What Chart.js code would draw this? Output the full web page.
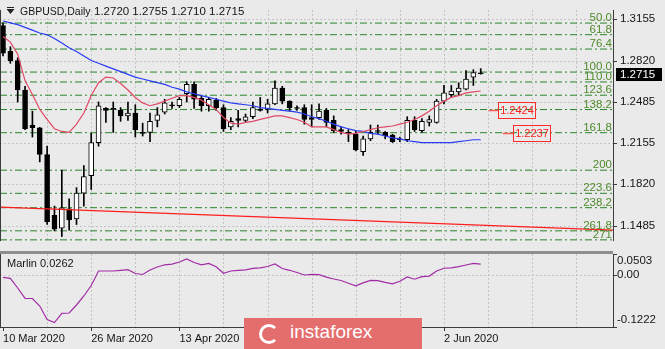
<!DOCTYPE html>
<html>
<head>
<meta charset="utf-8">
<script src="https://cdn.jsdelivr.net/npm/chart.js@4.4.0/dist/chart.umd.min.js"></script>
<style>
  html, body { margin: 0; padding: 0; background: #eaeaea; }
  body { width: 665px; height: 349px; position: relative; overflow: hidden; }
  #main { position: absolute; left: 0; top: 0; }
  #sub { position: absolute; left: 0; top: 254px; }
  #sep { position: absolute; left: 0; top: 251px; width: 613px; height: 3px; background: #8e8e8e; }
  #brand { position: absolute; left: 244px; top: 318px; width: 178px; height: 31px; background: #e46d6d; }
  #brand .logo { position: absolute; left: 15px; top: 6px; width: 14px; height: 14px; border: 3px solid #fff; border-radius: 50%; border-right-color: transparent; }
  #brand .name { position: absolute; left: 46px; top: 3px; color: #fff; font: 19px 'Liberation Sans', Arial, sans-serif; }
</style>
</head>
<body>
<canvas id="main" width="665" height="251"></canvas>
<div id="sep"></div>
<canvas id="sub" width="665" height="95"></canvas>
<div id="brand"><div class="logo"></div><div class="name">instaforex</div></div>
<script>
//// chart data

let dates = [
    '10 Mar 2020', '11 Mar 2020', '12 Mar 2020', '13 Mar 2020', '16 Mar 2020', '17 Mar 2020',
    '18 Mar 2020', '19 Mar 2020', '20 Mar 2020', '23 Mar 2020', '24 Mar 2020', '25 Mar 2020',
    '26 Mar 2020', '27 Mar 2020', '30 Mar 2020', '31 Mar 2020', '1 Apr 2020', '2 Apr 2020',
    '3 Apr 2020', '6 Apr 2020', '7 Apr 2020', '8 Apr 2020', '9 Apr 2020', '10 Apr 2020',
    '13 Apr 2020', '14 Apr 2020', '15 Apr 2020', '16 Apr 2020', '17 Apr 2020', '20 Apr 2020',
    '21 Apr 2020', '22 Apr 2020', '23 Apr 2020', '24 Apr 2020', '27 Apr 2020', '28 Apr 2020',
    '29 Apr 2020', '30 Apr 2020', '1 May 2020', '4 May 2020', '5 May 2020', '6 May 2020',
    '7 May 2020', '8 May 2020', '11 May 2020', '12 May 2020', '13 May 2020', '14 May 2020',
    '15 May 2020', '18 May 2020', '19 May 2020', '20 May 2020', '21 May 2020', '22 May 2020',
    '25 May 2020', '26 May 2020', '27 May 2020', '28 May 2020', '29 May 2020', '1 Jun 2020',
    '2 Jun 2020', '3 Jun 2020', '4 Jun 2020', '5 Jun 2020', '8 Jun 2020', '9 Jun 2020'
];

let opens = [
    1.3103, 1.2894, 1.2820, 1.2582, 1.2299, 1.2277, 1.2061, 1.1569, 1.1465, 1.1622, 1.1540,
    1.1748, 1.1890, 1.2157, 1.2433, 1.2433, 1.2418, 1.2373, 1.2396, 1.2239, 1.2239, 1.2336,
    1.2403, 1.2463, 1.2455, 1.2552, 1.2627, 1.2515, 1.2455, 1.2500, 1.2440, 1.2284, 1.2351,
    1.2336, 1.2366, 1.2425, 1.2425, 1.2470, 1.2597, 1.2492, 1.2440, 1.2440, 1.2359, 1.2359,
    1.2418, 1.2336, 1.2262, 1.2239, 1.2225, 1.2083, 1.2187, 1.2254, 1.2239, 1.2217, 1.2187,
    1.2180, 1.2336, 1.2254, 1.2321, 1.2321, 1.2492, 1.2545, 1.2567, 1.2589, 1.2686, 1.2720
];
let highs = [
    1.3125, 1.2932, 1.2842, 1.2612, 1.2411, 1.2280, 1.2128, 1.1644, 1.1934, 1.1703, 1.1793,
    1.1971, 1.2232, 1.2485, 1.2440, 1.2485, 1.2440, 1.2485, 1.2463, 1.2314, 1.2396, 1.2440,
    1.2507, 1.2485, 1.2522, 1.2649, 1.2649, 1.2537, 1.2522, 1.2515, 1.2463, 1.2359, 1.2418,
    1.2388, 1.2485, 1.2522, 1.2507, 1.2656, 1.2612, 1.2495, 1.2455, 1.2463, 1.2463, 1.2470,
    1.2433, 1.2373, 1.2284, 1.2262, 1.2247, 1.2210, 1.2299, 1.2299, 1.2247, 1.2225, 1.2202,
    1.2366, 1.2366, 1.2351, 1.2373, 1.2507, 1.2619, 1.2619, 1.2641, 1.2738, 1.2746, 1.2755
];
let lows = [
    1.2857, 1.2798, 1.2485, 1.2262, 1.2202, 1.2001, 1.1495, 1.1443, 1.1398, 1.1450, 1.1495,
    1.1644, 1.1778, 1.2128, 1.2321, 1.2239, 1.2329, 1.2336, 1.2202, 1.2210, 1.2165, 1.2284,
    1.2388, 1.2433, 1.2440, 1.2485, 1.2433, 1.2411, 1.2411, 1.2418, 1.2247, 1.2262, 1.2284,
    1.2321, 1.2351, 1.2411, 1.2396, 1.2463, 1.2470, 1.2411, 1.2418, 1.2306, 1.2284, 1.2344,
    1.2284, 1.2239, 1.2225, 1.2165, 1.2090, 1.2053, 1.2172, 1.2225, 1.2187, 1.2157, 1.2165,
    1.2165, 1.2247, 1.2239, 1.2291, 1.2314, 1.2470, 1.2522, 1.2537, 1.2582, 1.2619, 1.2710
];
let closes = [
    1.2880, 1.2820, 1.2582, 1.2269, 1.2277, 1.2061, 1.1517, 1.1458, 1.1629, 1.1532, 1.1748,
    1.1882, 1.2157, 1.2455, 1.2418, 1.2425, 1.2373, 1.2396, 1.2262, 1.2232, 1.2329, 1.2381,
    1.2478, 1.2455, 1.2507, 1.2627, 1.2507, 1.2455, 1.2507, 1.2440, 1.2269, 1.2329, 1.2336,
    1.2366, 1.2440, 1.2418, 1.2470, 1.2597, 1.2492, 1.2440, 1.2433, 1.2344, 1.2344, 1.2411,
    1.2321, 1.2254, 1.2247, 1.2232, 1.2098, 1.2187, 1.2239, 1.2247, 1.2210, 1.2165, 1.2180,
    1.2336, 1.2262, 1.2329, 1.2344, 1.2492, 1.2559, 1.2574, 1.2597, 1.2671, 1.2723, 1.2715
];

// red (fast) and blue (slow) moving averages
let fastMa = [
    1.3014, 1.2969, 1.2872, 1.2656, 1.2545, 1.2425, 1.2344, 1.2269, 1.2247, 1.2239, 1.2306,
    1.2396, 1.2537, 1.2641, 1.2686, 1.2679, 1.2634, 1.2582, 1.2522, 1.2478, 1.2455, 1.2470,
    1.2492, 1.2515, 1.2537, 1.2537, 1.2522, 1.2500, 1.2463, 1.2425, 1.2359, 1.2314, 1.2306,
    1.2321, 1.2329, 1.2344, 1.2359, 1.2373, 1.2373, 1.2359, 1.2344, 1.2321, 1.2284, 1.2284,
    1.2284, 1.2262, 1.2239, 1.2225, 1.2232, 1.2247, 1.2262, 1.2277, 1.2284, 1.2291, 1.2306,
    1.2321, 1.2344, 1.2373, 1.2411, 1.2455, 1.2492, 1.2522, 1.2537, 1.2559, 1.2567, 1.2574
];
let slowMa = [
    1.3140, 1.3125, 1.3110, 1.3088, 1.3066, 1.3043, 1.3028, 1.2999, 1.2961, 1.2924, 1.2894,
    1.2857, 1.2820, 1.2798, 1.2775, 1.2753, 1.2731, 1.2708, 1.2686, 1.2671, 1.2656, 1.2641,
    1.2627, 1.2604, 1.2589, 1.2567, 1.2552, 1.2537, 1.2522, 1.2507, 1.2492, 1.2478, 1.2470,
    1.2463, 1.2455, 1.2440, 1.2433, 1.2425, 1.2418, 1.2411, 1.2403, 1.2388, 1.2366, 1.2351,
    1.2329, 1.2306, 1.2284, 1.2269, 1.2254, 1.2247, 1.2232, 1.2225, 1.2210, 1.2195, 1.2187,
    1.2172, 1.2165, 1.2157, 1.2157, 1.2157, 1.2157, 1.2157, 1.2165, 1.2172, 1.2180, 1.2180
];

// long red trend line: price at the left and at the right edge
let trendStart = 1.1636;
let trendEnd = 1.1450;

let fibNames = ['50.0', '61.8', '76.4', '100.0', '110.0', '123.6', '138.2', '161.8', '200', '223.6', '238.2', '261.8', '271'];
let fibPrices = [1.3123, 1.3029, 1.2913, 1.2727, 1.2647, 1.2540, 1.2424, 1.2237, 1.1934, 1.1747, 1.1631, 1.1444, 1.1371];

let priceTicks = [1.3155, 1.2820, 1.2485, 1.2155, 1.1820, 1.1485];

let marlin = [
    -0.0048, -0.0074, -0.0300, -0.0544, -0.0549, -0.0726, -0.1045, -0.1116, -0.0898, -0.0891, -0.0702,
    -0.0489, -0.0241, 0.0101, 0.0101, 0.0101, 0.0118, 0.0132, 0.0042, 0.0019, 0.0125, 0.0196,
    0.0248, 0.0264, 0.0314, 0.0385, 0.0302, 0.0248, 0.0279, 0.0201, 0.0049, 0.0101, 0.0116,
    0.0130, 0.0163, 0.0175, 0.0208, 0.0267, 0.0160, 0.0118, 0.0066, 0.0007, 0.0021, 0.0014,
    -0.0045, -0.0088, -0.0123, -0.0187, -0.0248, -0.0180, -0.0121, -0.0128, -0.0168, -0.0201, -0.0142,
    -0.0038, -0.0093, -0.0033, -0.0019, 0.0101, 0.0167, 0.0177, 0.0205, 0.0243, 0.0283, 0.0262
];
let marlinTicks = [0.0503, 0.00, -0.1222];
let marlinTickLabels = ['0.0503', '0.00', '-0.1222'];

//// drawing helpers

const FONT = "'Liberation Sans', Arial, sans-serif";
const INK = '#151515';
const X_MIN = -0.41;
const X_MAX = 83;

function dashedLine(ctx, x1, y1, x2, y2) {
    ctx.beginPath();
    ctx.moveTo(x1, y1);
    ctx.lineTo(x2, y2);
    ctx.stroke();
}

function drawVerticalGrid(chart) {
    const {ctx, chartArea: a, scales: {x}} = chart;
    for (let i = 6; i <= X_MAX; i += 6) {
        const px = Math.round(x.getPixelForValue(i)) + 0.5;
        dashedLine(ctx, px, a.top, px, a.bottom);
    }
}

const mainDecor = {
    id: 'mainDecor',
    beforeDatasetsDraw(chart) {
        const {ctx, chartArea: a, scales: {y}} = chart;
        ctx.save();
        ctx.strokeStyle = '#c4c4c4';
        ctx.lineWidth = 1;
        ctx.setLineDash([2, 2]);
        priceTicks.forEach(v => {
            const py = Math.round(y.getPixelForValue(v)) + 0.5;
            dashedLine(ctx, a.left, py, a.right, py);
        });
        drawVerticalGrid(chart);
        ctx.restore();
    },
    afterDatasetsDraw(chart) {
        const {ctx, chartArea: a, scales: {x, y}} = chart;
        ctx.save();

        // fibo level names
        ctx.font = '11.5px ' + FONT;
        ctx.fillStyle = '#4f8a2b';
        ctx.textAlign = 'right';
        ctx.textBaseline = 'alphabetic';
        fibNames.forEach((n, i) => {
            ctx.fillText(n, a.right - 1, y.getPixelForValue(fibPrices[i]) - 2);
        });

        // red price tags at 138.2 and 161.8
        let tags = [[fibPrices[6], 66.1, 67.3], [fibPrices[7], 68.0, 69.4]];
        ctx.font = '11px ' + FONT;
        ctx.textAlign = 'center';
        ctx.textBaseline = 'middle';
        tags.forEach(t => {
            const py = Math.round(y.getPixelForValue(t[0]));
            const x1 = x.getPixelForValue(t[1]);
            const bx = Math.round(x.getPixelForValue(t[2]));
            ctx.strokeStyle = '#ff5a5a';
            ctx.lineWidth = 1.5;
            dashedLine(ctx, x1, py + 0.5, bx, py + 0.5);
            ctx.lineWidth = 1;
            ctx.strokeStyle = '#ff2a2a';
            ctx.strokeRect(bx + 0.5, py - 7.5, 37, 16);
            ctx.fillStyle = '#ff2020';
            ctx.fillText(t[0].toFixed(4), bx + 19, py + 1);
        });

        // frame and price tick marks
        ctx.strokeStyle = '#3c3c3c';
        ctx.lineWidth = 1;
        dashedLine(ctx, 0.5, a.top, 0.5, a.bottom);
        dashedLine(ctx, a.right + 0.5, a.top, a.right + 0.5, a.bottom);
        priceTicks.forEach(v => {
            const py = Math.round(y.getPixelForValue(v)) + 0.5;
            dashedLine(ctx, a.right, py, a.right + 4, py);
        });

        // current price box
        const last = closes.length - 1;
        const cy = Math.round(y.getPixelForValue(closes[last]));
        ctx.fillStyle = '#000';
        ctx.fillRect(a.right + 3, cy - 6, 46, 13);
        ctx.fillStyle = '#fff';
        ctx.font = '11.5px ' + FONT;
        ctx.textAlign = 'left';
        ctx.fillText(closes[last].toFixed(4), a.right + 7, cy + 1);

        // title
        ctx.fillStyle = '#222';
        ctx.fillRect(7, 7, 7, 1);
        ctx.beginPath();
        ctx.moveTo(6.5, 9);
        ctx.lineTo(14.5, 9);
        ctx.lineTo(10.5, 14);
        ctx.closePath();
        ctx.fill();
        ctx.fillStyle = INK;
        ctx.textBaseline = 'middle';
        ctx.font = '10.5px ' + FONT;
        ctx.fillText('GBPUSD,Daily', 20, 12);
        let ohlc = [opens[last], highs[last], lows[last], closes[last]].map(v => v.toFixed(4)).join(' ');
        ctx.font = '11.5px ' + FONT;
        ctx.fillText(ohlc, 94, 12);
        ctx.restore();
    }
};

const subDecor = {
    id: 'subDecor',
    beforeDatasetsDraw(chart) {
        const {ctx, chartArea: a, scales: {y}} = chart;
        ctx.save();
        ctx.strokeStyle = '#c4c4c4';
        ctx.lineWidth = 1;
        ctx.setLineDash([2, 2]);
        const zy = Math.round(y.getPixelForValue(0)) + 0.5;
        dashedLine(ctx, a.left, zy, a.right, zy);
        drawVerticalGrid(chart);
        ctx.restore();
    },
    afterDraw(chart) {
        const {ctx, chartArea: a, scales: {x, y}} = chart;
        ctx.save();
        ctx.strokeStyle = '#3c3c3c';
        ctx.lineWidth = 1;
        dashedLine(ctx, 0.5, a.top, 0.5, a.bottom + 0.5);
        dashedLine(ctx, a.right + 0.5, a.top, a.right + 0.5, a.bottom + 1);
        dashedLine(ctx, 0, a.bottom + 0.5, a.right + 1, a.bottom + 0.5);
        for (let i = 0; i < dates.length; i += 12) {
            const px = Math.round(x.getPixelForValue(i)) + 0.5;
            dashedLine(ctx, px, a.bottom, px, a.bottom + 4);
        }
        // oscillator scale: edge labels sit inside the panel
        ctx.font = '11.5px ' + FONT;
        ctx.fillStyle = INK;
        ctx.textAlign = 'left';
        ctx.textBaseline = 'middle';
        marlinTicks.forEach((v, i) => {
            let py = y.getPixelForValue(v);
            dashedLine(ctx, a.right, Math.round(py) + 0.5, a.right + 4, Math.round(py) + 0.5);
            if (i === 0) py += 7;
            if (i === marlinTicks.length - 1) py -= 7;
            ctx.fillText(marlinTickLabels[i], a.right + 4, py);
        });
        ctx.font = '11px ' + FONT;
        ctx.fillText('Marlin ' + marlin[marlin.length - 1].toFixed(4), 7, 10);
        ctx.restore();
    }
};

//// build charts

let candleBodies = opens.map((o, i) => ({x: i, y: [o, closes[i]]}));
let candleWicks = lows.map((l, i) => ({x: i, y: [l, highs[i]]}));
let bodyColors = opens.map((o, i) => closes[i] >= o ? '#ffffff' : '#000000');

let mainDatasets = [
    {type: 'line', data: fastMa.map((v, i) => ({x: i, y: v})), borderColor: '#e04a66', borderWidth: 1.2, pointRadius: 0, order: -2},
    {type: 'line', data: slowMa.map((v, i) => ({x: i, y: v})), borderColor: '#2a3cf5', borderWidth: 1.2, pointRadius: 0, order: -2},
    {type: 'line', data: [{x: X_MIN, y: trendStart}, {x: X_MAX, y: trendEnd}], borderColor: '#ff1e1e', borderWidth: 1.2, pointRadius: 0, order: -2},
    {type: 'bar', data: candleBodies, backgroundColor: bodyColors, borderColor: '#000', borderWidth: 1, borderSkipped: false, barThickness: 5, grouped: false, order: 0},
    {type: 'bar', data: candleWicks, backgroundColor: '#000', borderWidth: 0, barThickness: 1, grouped: false, order: 1}
];
fibPrices.forEach(p => {
    mainDatasets.push({
        type: 'line', data: [{x: X_MIN, y: p}, {x: X_MAX, y: p}],
        borderColor: '#2b842b', borderWidth: 1, borderDash: [7, 3, 2, 3], pointRadius: 0, order: 5
    });
});

new Chart(document.getElementById('main'), {
    type: 'bar',
    data: {datasets: mainDatasets},
    options: {
        animation: false,
        responsive: false,
        devicePixelRatio: 1,
        layout: {padding: 0},
        plugins: {legend: {display: false}, tooltip: {enabled: false}},
        scales: {
            x: {type: 'linear', min: X_MIN, max: X_MAX, offset: false, display: false, grid: {offset: false}},
            y: {
                position: 'right', min: 1.13609, max: 1.32294, beginAtZero: false,
                grid: {display: false, drawTicks: true, tickLength: 4},
                border: {display: false},
                ticks: {padding: 3, color: INK, font: {family: FONT, size: 11.5}, callback: v => v.toFixed(4)},
                afterBuildTicks: s => { s.ticks = priceTicks.map(v => ({value: v})); },
                afterFit: s => { s.width = 52; }
            }
        }
    },
    plugins: [mainDecor]
});

new Chart(document.getElementById('sub'), {
    type: 'line',
    data: {
        datasets: [{data: marlin.map((v, i) => ({x: i, y: v})), borderColor: '#a22ca6', borderWidth: 1.2, pointRadius: 0}]
    },
    options: {
        animation: false,
        responsive: false,
        devicePixelRatio: 1,
        layout: {padding: 0},
        plugins: {legend: {display: false}, tooltip: {enabled: false}},
        scales: {
            x: {
                type: 'linear', position: 'bottom', min: X_MIN, max: X_MAX, offset: false,
                grid: {display: false, drawTicks: true, tickLength: 5},
                border: {display: false},
                ticks: {
                    autoSkip: false, maxRotation: 0, align: 'start', padding: 0, color: INK,
                    font: {family: FONT, size: 11},
                    callback: v => dates[v] || ''
                },
                afterBuildTicks: s => {
                    let t = [];
                    for (let i = 0; i < dates.length; i += 12) t.push({value: i});
                    s.ticks = t;
                },
                afterFit: s => { s.height = 22; }
            },
            y: {
                position: 'right', min: -0.1222, max: 0.0503,
                grid: {display: false},
                border: {display: false},
                ticks: {display: false},
                afterFit: s => { s.width = 52; }
            }
        }
    },
    plugins: [subDecor]
});
</script>
</body>
</html>
